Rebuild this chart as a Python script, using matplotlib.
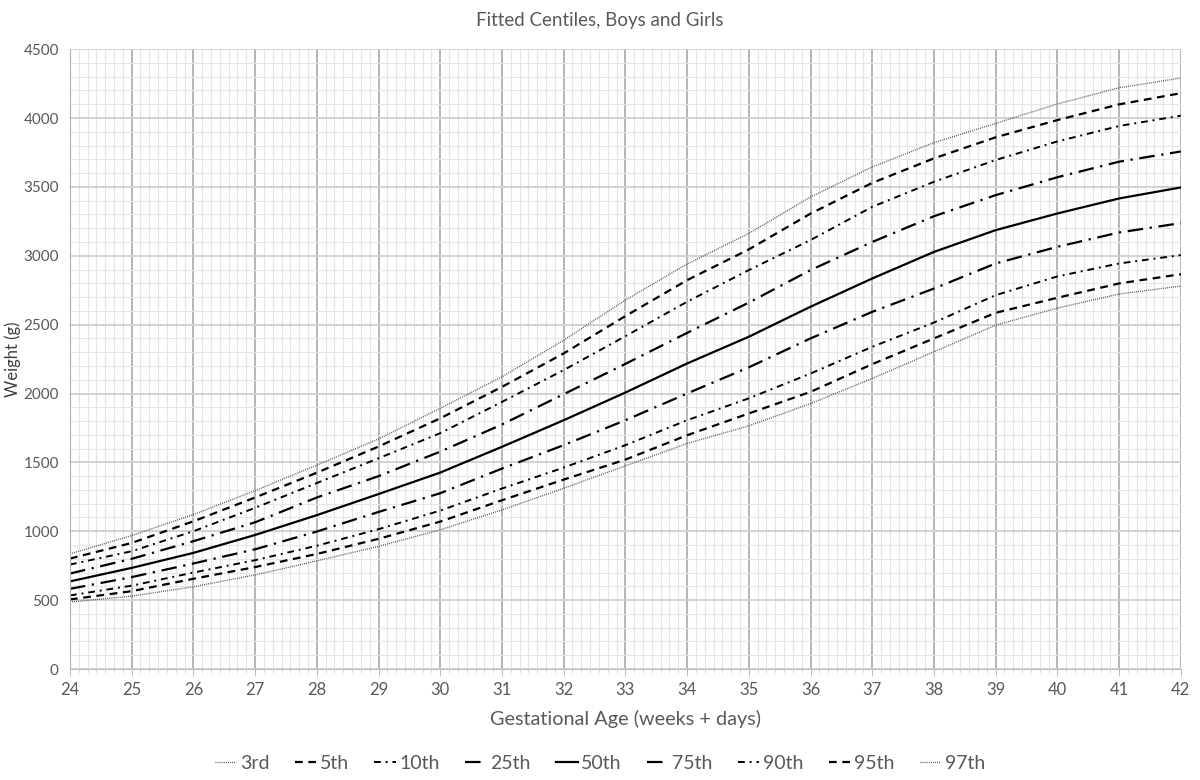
import matplotlib.pyplot as plt
from matplotlib.ticker import MultipleLocator

weeks = list(range(24, 43))

c3 = [486, 529, 597, 683, 785, 890, 1010, 1155, 1312, 1475, 1637, 1765, 1927, 2109, 2303, 2496, 2620, 2722, 2780]
c5 = [505, 565, 655, 740, 835, 945, 1070, 1225, 1375, 1520, 1697, 1855, 2012, 2213, 2400, 2586, 2695, 2799, 2866]
c10 = [534, 605, 700, 790, 895, 1015, 1150, 1310, 1462, 1625, 1806, 1965, 2145, 2339, 2515, 2714, 2850, 2944, 3005]
c25 = [582, 667, 766, 869, 998, 1140, 1276, 1455, 1625, 1806, 2000, 2190, 2400, 2593, 2762, 2944, 3065, 3169, 3237]
c50 = [636, 734, 843, 973, 1117, 1270, 1426, 1613, 1806, 2007, 2218, 2412, 2630, 2835, 3028, 3186, 3307, 3416, 3496]
c75 = [693, 800, 928, 1065, 1245, 1400, 1578, 1775, 1995, 2215, 2440, 2660, 2896, 3100, 3287, 3440, 3570, 3683, 3757]
c90 = [758, 855, 1000, 1170, 1350, 1530, 1712, 1939, 2170, 2416, 2666, 2896, 3114, 3355, 3537, 3695, 3830, 3942, 4017]
c95 = [802, 915, 1072, 1245, 1425, 1615, 1820, 2048, 2291, 2562, 2823, 3046, 3306, 3529, 3707, 3860, 3985, 4099, 4180]
c97 = [836, 969, 1121, 1295, 1480, 1670, 1893, 2121, 2387, 2678, 2940, 3162, 3427, 3645, 3821, 3961, 4102, 4220, 4290]

labels = ["3rd", "5th", "10th", "25th", "50th", "75th", "90th", "95th", "97th"]
series = [c3, c5, c10, c25, c50, c75, c90, c95, c97]

dotted = (0, (0.6, 0.9))
dashed = (0, (3.5, 2.5))
dashdot = (0, (3.5, 2.5, 1, 2.5))
longdashdot = (0, (7, 3, 1, 3))
styles = [dotted, dashed, dashdot, longdashdot, "-", longdashdot, dashdot, dashed, dotted]
widths = [1.0, 1.6, 1.4, 1.6, 1.6, 1.6, 1.4, 1.6, 1.0]
colors = ["#404040", "black", "black", "black", "black", "black", "black", "black", "#404040"]

plt.rcParams['font.family'] = ['Lato', 'DejaVu Sans']
txt = "#595959"

fig = plt.figure(figsize=(12, 7.8), dpi=100)
ax = fig.add_axes([0.0583, 0.1423, 0.9257, 0.7947])

for vals, lab, ls, lw, col in zip(series, labels, styles, widths, colors):
    ax.plot(weeks, vals, linestyle=ls, linewidth=lw, color=col, label=lab)

ax.set_xlim(24, 42)
ax.set_ylim(0, 4500)
ax.xaxis.set_major_locator(MultipleLocator(1))
ax.xaxis.set_minor_locator(MultipleLocator(1 / 7))
ax.yaxis.set_major_locator(MultipleLocator(500))
ax.yaxis.set_minor_locator(MultipleLocator(100))

ax.grid(which="major", axis="x", color="#b0b0b0", linewidth=1.3)
ax.grid(which="minor", axis="x", color="#e4e4e4", linewidth=0.8)
ax.grid(which="major", axis="y", color="#d2d2d2", linewidth=1.4)
ax.grid(which="minor", axis="y", color="#e6e6e6", linewidth=0.8)
ax.set_axisbelow(True)

for s in ["top", "right"]:
    ax.spines[s].set_visible(False)
ax.spines["left"].set_color("#b0b0b0")
ax.spines["bottom"].set_color("#bfbfbf")

ax.tick_params(axis="x", which="major", length=5, color="#bfbfbf", labelsize=12, labelcolor=txt, pad=4)
ax.tick_params(axis="x", which="minor", length=3, color="#d9d9d9")
ax.tick_params(axis="y", which="both", length=0, labelsize=11, labelcolor=txt, pad=8)

ax.set_xlabel("Gestational Age (weeks + days)", fontsize=14.3, color=txt, labelpad=9)
ax.set_ylabel("Weight (g)", fontsize=12, color="#404040")
ax.yaxis.set_label_coords(-0.044, 0.5)
fig.suptitle("Fitted Centiles, Boys and Girls", fontsize=13.5, color=txt, y=0.985)

leg = fig.legend(loc="lower center", bbox_to_anchor=(0.5, -0.012), ncol=9, frameon=False,
                 fontsize=14, handlelength=1.1, handletextpad=0.2, columnspacing=1.3)
for t in leg.get_texts():
    t.set_color(txt)

fig.savefig("out.png", dpi=100)
